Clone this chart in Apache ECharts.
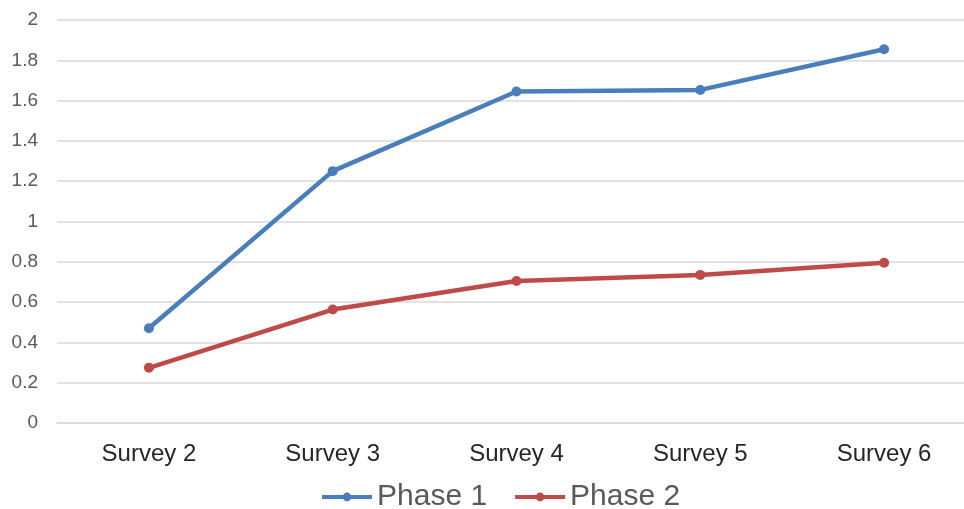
<!DOCTYPE html>
<html>
<head>
<meta charset="utf-8">
<style>
  html, body { margin: 0; padding: 0; background: #ffffff; overflow: hidden; }
  /* canvas is a little wider than the window so the last category band runs past the edge */
  #chart { width: 976px; height: 509px; }
</style>
<script src="https://cdn.jsdelivr.net/npm/echarts@6/dist/echarts.min.js"></script>
</head>
<body>
<div id="chart"></div>
<script>
// Survey waves along the x axis
const categories = ['Survey 2', 'Survey 3', 'Survey 4', 'Survey 5', 'Survey 6'];

// Mean scores per wave for each phase
const phase1 = [0.47, 1.25, 1.645, 1.653, 1.855];
const phase2 = [0.274, 0.563, 0.705, 0.735, 0.795];

// Value axis range and step
const yMin = 0;
const yMax = 2;
const yStep = 0.2;

const FONT = '"Liberation Sans", Arial, sans-serif';
const BLUE = '#4a7ebb';
const RED = '#be4b48';

const chart = echarts.init(document.getElementById('chart'), null, { renderer: 'canvas' });

function lineSeries(name, data, color) {
  return {
    name: name,
    type: 'line',
    data: data,
    symbol: 'circle',
    symbolSize: 10,
    showSymbol: true,
    lineStyle: { color: color, width: 4.5 },
    itemStyle: { color: color },
    emphasis: { disabled: true },
    animation: false
  };
}

chart.setOption({
  animation: false,
  textStyle: { fontFamily: FONT },
  grid: { left: 57, right: 0, top: 20, bottom: 86, containLabel: false },
  legend: {
    left: 320,
    top: 482,
    padding: 0,
    itemWidth: 50,
    itemHeight: 11,
    itemGap: 26,
    lineStyle: { width: 4 },
    textStyle: { fontFamily: FONT, fontSize: 30, color: '#595959' },
    data: ['Phase 1', 'Phase 2']
  },
  xAxis: {
    type: 'category',
    data: categories,
    boundaryGap: true,
    axisLine: { show: true, lineStyle: { color: '#d9d9d9', width: 1.5 } },
    axisTick: { show: false },
    axisLabel: { fontFamily: FONT, fontSize: 24, color: '#262626', margin: 19 },
    splitLine: { show: false }
  },
  yAxis: {
    type: 'value',
    min: yMin,
    max: yMax,
    interval: yStep,
    axisLine: { show: false },
    axisTick: { show: false },
    axisLabel: { fontFamily: FONT, fontSize: 19, color: '#595959', margin: 19 },
    splitLine: { show: true, lineStyle: { color: '#d9d9d9', width: 1.5 } }
  },
  series: [
    lineSeries('Phase 1', phase1, BLUE),
    lineSeries('Phase 2', phase2, RED)
  ]
});
</script>
</body>
</html>
